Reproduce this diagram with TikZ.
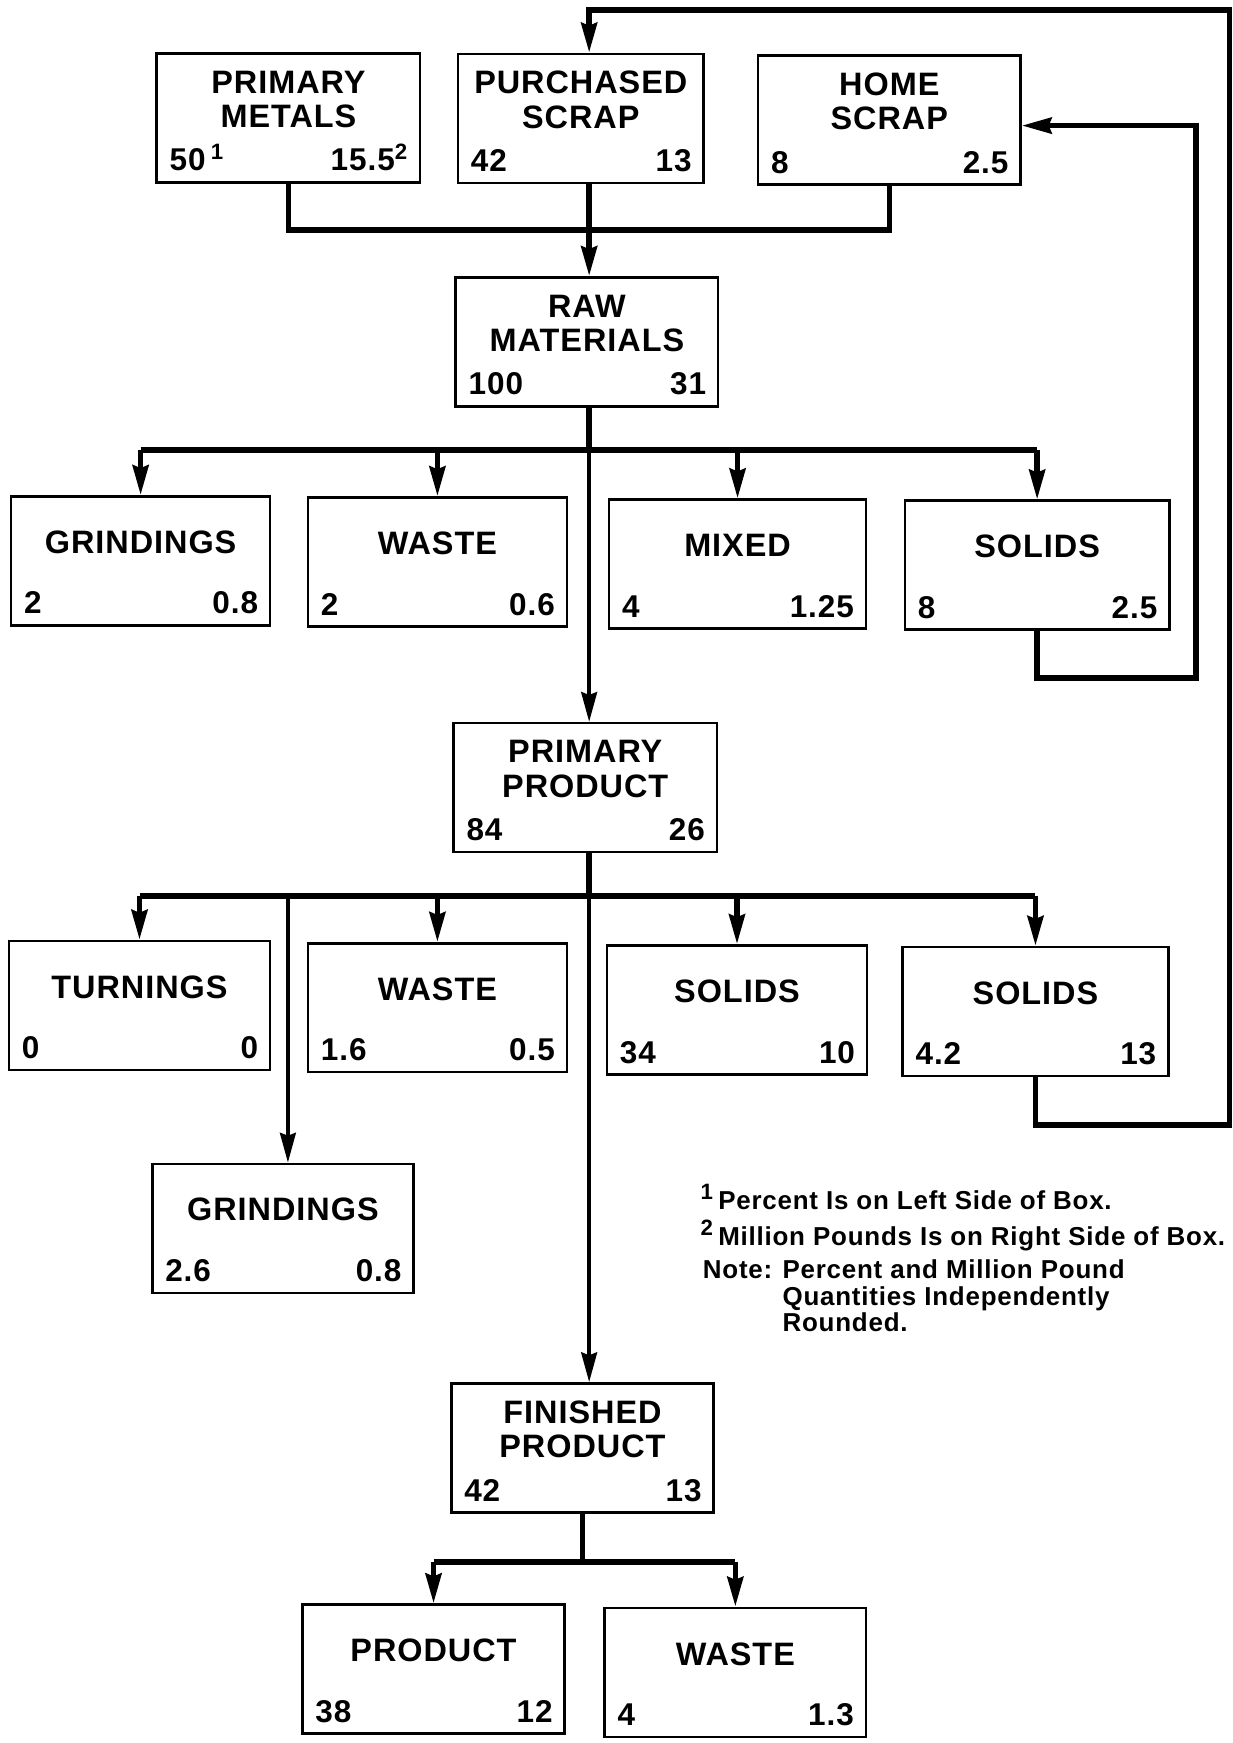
\documentclass[tikz,border=0pt]{standalone}
\usepackage{fontspec}
\setmainfont{Liberation Sans}
\newfontfamily\flowfont[LetterSpace=3]{Liberation Sans}
\usetikzlibrary{arrows.meta}

\begin{document}
\begin{tikzpicture}[x=0.6pt, y=-0.6pt,
    flowbox/.style={draw, line width=1.4pt, minimum height=69.6pt, inner sep=0pt},
    boxtitle/.style={font=\flowfont\bfseries\fontsize{17.5}{18.6}\selectfont, align=center, inner sep=0pt},
    boxnum/.style={font=\flowfont\bfseries\fontsize{17}{18.6}\selectfont, inner sep=0pt},
    notetext/.style={font=\flowfont\bfseries\fontsize{14}{14.4}\selectfont, inner sep=0pt},
    flow/.style={line width=3pt},
    trunk/.style={line width=2pt},
    >={Stealth[length=16pt, width=8.5pt, inset=1.5pt]}]

    \useasboundingbox (0,0) rectangle (1109,1568);

    % Boxes: name / centre x / centre y / width / title / percent / million pounds
    \foreach \n/\cx/\cy/\w/\txt/\lv/\rv in {
        pm/259.5/106/237/{PRIMARY\\METALS}/{50\,\textsuperscript{\large 1}}/{15.5\textsuperscript{\large 2}},
        ps/522.5/106.5/221/{PURCHASED\\SCRAP}/42/13,
        hs/800/108/236/{HOME\\SCRAP}/8/2.5,
        rm/528/307.5/236/{RAW\\MATERIALS}/100/31,
        g1/126.5/504.5/233/GRINDINGS/2/0.8,
        w1/393.5/505.5/233/WASTE/2/0.6,
        mx/663.5/507.5/231/MIXED/4/1.25,
        s1/933/508.5/238/SOLIDS/8/2.5,
        pp/526.5/708.5/237/{PRIMARY\\PRODUCT}/84/26,
        tu/125.5/904.5/235/TURNINGS/0/0,
        w2/393.5/906.5/233/WASTE/1.6/0.5,
        s2/663/908.5/234/SOLIDS/34/10,
        s3/931.5/910/239/SOLIDS/4.2/13,
        g2/254.5/1105/235/GRINDINGS/2.6/0.8,
        fp/524/1302.5/236/{FINISHED\\PRODUCT}/42/13,
        pr/390/1501.5/236/PRODUCT/38/12,
        w3/661.5/1504.5/235/WASTE/4/1.3}
    {
        \node[flowbox, minimum width=\w*0.6pt] (\n) at (\cx,\cy) {};
        \node[boxtitle] (\n-t) at ([yshift=10pt]\n.center) {\txt};
        \node[boxnum, anchor=base west] (\n-l) at ([xshift=7.5pt, yshift=6.8pt]\n.south west) {\lv};
        \node[boxnum, anchor=base east] (\n-r) at ([xshift=-7pt, yshift=6.8pt]\n.south east) {\rv};
    }

    % Junction points
    \coordinate (merge) at (530,207);
    \coordinate (d1) at (530,405);
    \coordinate (d2) at (530,806);
    \coordinate (d3) at (523,1405);
    \coordinate (topL) at (530,9);
    \coordinate (topR) at (1106,9);
    \coordinate (loopR) at (1106,1012);
    \coordinate (homeR) at (1076,610);

    % Raw material inputs
    \draw[flow] (pm.south) |- (merge) -| (hs.south);
    \draw[flow,->] (merge |- ps.south) -- (merge |- rm.north);

    % First split
    \draw[flow] (merge |- rm.south) -- (d1);
    \draw[flow] (d1 -| g1) -- (d1 -| s1);
    \foreach \b in {g1,w1,mx,s1}
        \draw[flow,->] (d1 -| \b) -- (\b.north);
    \draw[trunk,->] (d1) -- (d1 |- pp.north);

    % Solids back to home scrap
    \draw[flow,->] (s1.south) |- (homeR) -- (homeR |- 0,113) -- (hs.east |- 0,113);

    % Second split
    \draw[flow] (d2 |- pp.south) -- (d2);
    \draw[flow] (d2 -| tu) -- (d2 -| s3);
    \foreach \b in {tu,w2,s2,s3}
        \draw[flow,->] (d2 -| \b) -- (\b.north);
    \draw[trunk,->] (259,806) -- (259,0 |- g2.north);
    \draw[trunk,->] (d2) -- (d2 |- fp.north);

    % Solids back to purchased scrap
    \draw[flow,->] (s3.south) |- (loopR) -- (topR) -- (topL) -- (topL |- ps.north);

    % Final split
    \draw[flow] (fp.south) -- (fp.south |- d3);
    \draw[flow] (d3 -| pr) -- (d3 -| w3);
    \foreach \b in {pr,w3}
        \draw[flow,->] (d3 -| \b) -- (\b.north);

    % Notes
    \node[notetext, anchor=base west] (note1) at (630,1088) {\textsuperscript{\large 1}\,Percent Is on Left Side of Box.};
    \node[notetext, anchor=base west] (note2) at (630,1120) {\textsuperscript{\large 2}\,Million Pounds Is on Right Side of Box.};
    \node[notetext, anchor=base west] (note3) at (632,1150)
        {\begin{tabular}[t]{@{}p{43pt}@{}l@{}}Note: & Percent and Million Pound\\
         & Quantities Independently\\ & Rounded.\end{tabular}};

\end{tikzpicture}
\end{document}
